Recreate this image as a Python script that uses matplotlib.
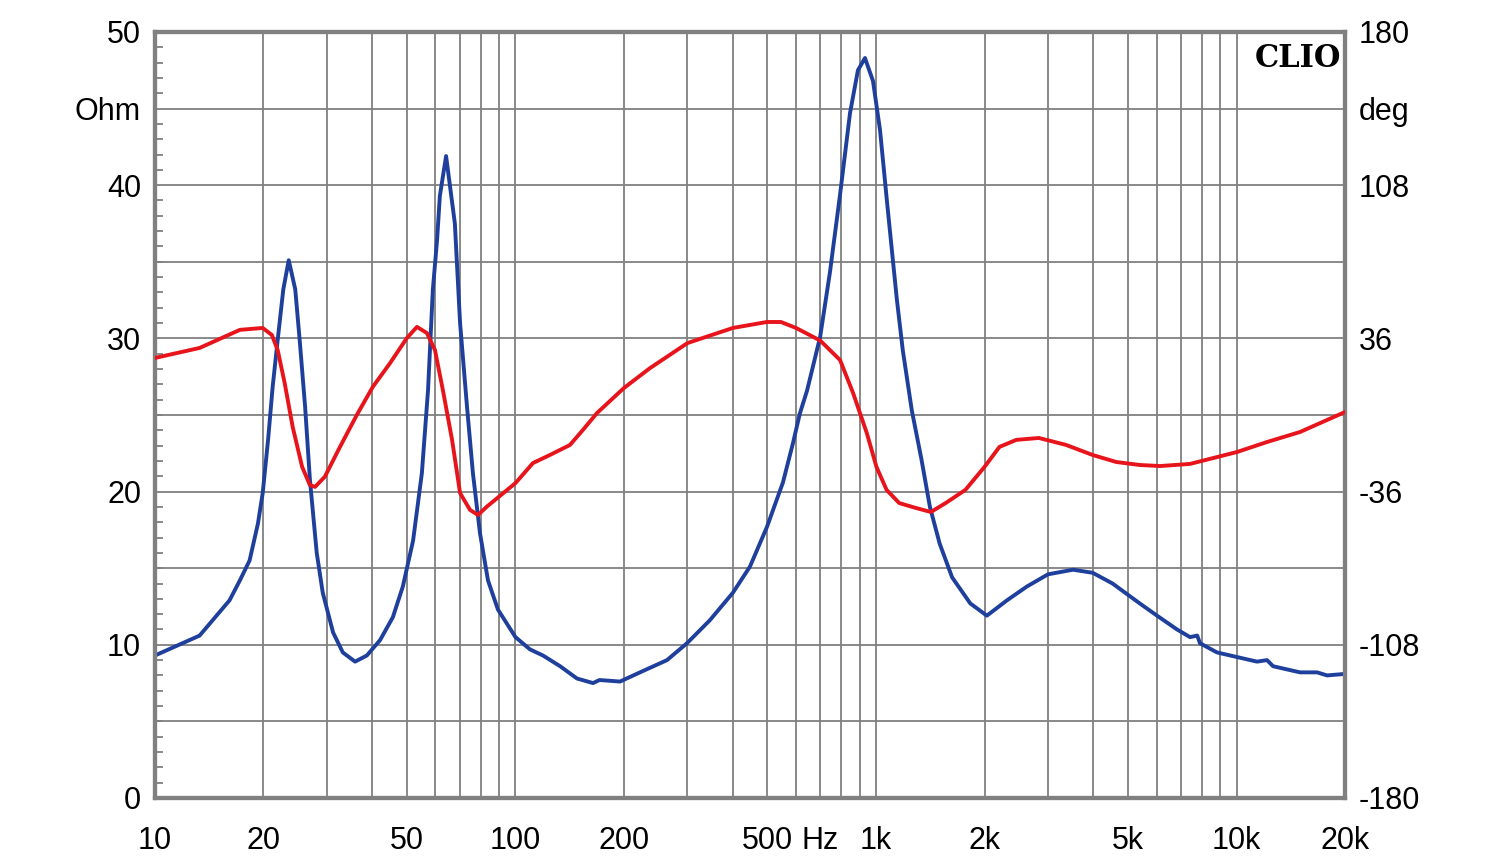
import numpy as np
import matplotlib
matplotlib.use("Agg")
import matplotlib.pyplot as plt
from matplotlib.ticker import FixedLocator, MultipleLocator, NullFormatter

# impedance magnitude (Ohm) vs frequency (Hz)
imp_f = [10, 13.3, 16.1, 17.2, 18.3, 19.3, 19.9, 20.6, 21.2, 21.9, 22.7, 23.5, 24.5,
         25.2, 26.1, 26.9, 28.1, 29.2, 31.2, 33.2, 35.9, 38.7, 42.1, 45.7, 48.7, 52,
         55, 57.2, 59, 60.6, 61.7, 64.2, 67.9, 70.2, 73.4, 76.2, 79.7, 83.9, 89.4, 100,
         109.7, 119.2, 133, 148.1, 164.1, 171, 195, 221.5, 263.2, 299, 346, 401, 447,
         498.5, 552, 589, 615, 644, 700, 745, 795, 847, 891, 932, 981, 1026, 1073,
         1115, 1143, 1187, 1257, 1337, 1411, 1502, 1626, 1826, 2030, 2308, 2620, 3000,
         3520, 3990, 4530, 5390, 6020, 6839, 7430, 7780, 7920, 8830, 10030, 11400,
         12150, 12630, 15000, 16730, 17830, 20000]
imp_z = [9.3, 10.6, 12.9, 14.2, 15.5, 17.9, 19.9, 23.4, 26.8, 29.9, 33.2, 35.1, 33.2,
         29.9, 25.5, 20.8, 16.0, 13.4, 10.8, 9.5, 8.9, 9.3, 10.3, 11.8, 13.8, 16.8,
         21.2, 26.6, 33.2, 36.4, 39.3, 41.9, 37.5, 31.0, 25.5, 21.2, 17.3, 14.2, 12.3,
         10.5, 9.7, 9.3, 8.6, 7.8, 7.5, 7.7, 7.6, 8.2, 9.0, 10.1, 11.6, 13.4, 15.1,
         17.7, 20.6, 23.2, 25.1, 26.6, 30.1, 34.3, 39.4, 44.7, 47.5, 48.3, 46.8, 43.6,
         38.9, 35.0, 32.5, 29.2, 25.3, 22.1, 19.0, 16.6, 14.4, 12.7, 11.9, 12.9, 13.8,
         14.6, 14.9, 14.7, 14.0, 12.7, 11.9, 11.0, 10.5, 10.6, 10.1, 9.5, 9.2, 8.9,
         9.0, 8.6, 8.2, 8.2, 8.0, 8.1]

# phase (deg) vs frequency (Hz)
ph_f = [10, 13.3, 17.2, 19.9, 21.1, 21.9, 22.9, 24.1, 25.6, 26.9, 27.8, 29.6, 32.6,
        36.3, 40.2, 44.9, 50, 53.3, 56.8, 59.8, 62.9, 66.7, 70.2, 74.8, 78.7, 83.4,
        90.6, 100, 111.8, 124.6, 141.6, 153.9, 168.3, 200, 236, 300, 401, 498, 545,
        600, 700, 795, 864, 943, 1003, 1070, 1160, 1290, 1420, 1560, 1770, 2000, 2200,
        2450, 2830, 3370, 3990, 4640, 5390, 6136, 7430, 10030, 12150, 15000, 20000]
ph_deg = [26.8, 31.5, 40.0, 40.9, 37.6, 30.5, 15.0, -5.6, -24.4, -32.9, -33.8, -29.0,
          -15.0, 0.0, 13.2, 24.4, 36.2, 41.4, 38.5, 30.5, 11.7, -11.7, -36.7, -44.6,
          -47.0, -43.0, -38.0, -32.0, -22.6, -18.8, -14.1, -7.0, 0.9, 12.7, 22.0,
          33.8, 40.9, 43.7, 43.7, 40.9, 35.0, 25.8, 10.3, -8.5, -24.4, -35.2, -41.4,
          -43.7, -45.6, -41.4, -35.2, -24.4, -15.0, -11.7, -10.8, -14.1, -18.8, -22.1,
          -23.5, -24.0, -23.0, -17.4, -12.7, -8.0, 1.4]

x_ticks = [10, 20, 50, 100, 200, 500, 700, 1000, 2000, 5000, 10000, 20000]
x_labels = ["10", "20", "50", "100", "200", "500", "Hz", "1k", "2k", "5k", "10k", "20k"]
x_grid = [20, 30, 40, 50, 60, 70, 80, 90, 100, 200, 300, 400, 500, 600, 700, 800, 900,
          1000, 2000, 3000, 4000, 5000, 6000, 7000, 8000, 9000, 10000]
z_ticks = [0, 10, 20, 30, 40, 45, 50]
z_labels = ["0", "10", "20", "30", "40", "Ohm", "50"]
p_ticks = [-180, -108, -36, 36, 108, 144, 180]
p_labels = ["-180", "-108", "-36", "36", "108", "deg", "180"]

GRID = "#808080"
plt.rcParams["font.family"] = ["Liberation Sans", "DejaVu Sans"]

fig = plt.figure(figsize=(15, 8.64), dpi=100)
ax = fig.add_axes([0.1033, 0.0764, 0.7934, 0.8866])
ax.set_xscale("log")
ax.set_xlim(10, 20000)
ax.set_ylim(0, 50)

# grid
for f in x_grid:
    ax.axvline(f, color=GRID, lw=1.3, zorder=0)
for z in range(5, 50, 5):
    ax.axhline(z, color=GRID, lw=1.3, zorder=0)

ax.plot(imp_f, imp_z, color="#1f3f9c", lw=2.8, zorder=3, solid_joinstyle="round")

ax.xaxis.set_major_locator(FixedLocator(x_ticks))
ax.set_xticklabels(x_labels)
ax.xaxis.set_minor_formatter(NullFormatter())
ax.xaxis.set_minor_locator(FixedLocator([]))
ax.tick_params(axis="x", length=0, pad=20, labelsize=22)

ax.set_yticks(z_ticks)
ax.set_yticklabels(z_labels)
ax.yaxis.set_minor_locator(MultipleLocator(1))
ax.tick_params(axis="y", which="major", length=0, pad=10, labelsize=22)
ax.tick_params(axis="y", which="minor", direction="in", length=6, width=1.3,
               color=GRID, left=True, right=True)

for s in ax.spines.values():
    s.set_color(GRID)
    s.set_linewidth(3)

ax2 = ax.twinx()
ax2.set_ylim(-180, 180)
ax2.plot(ph_f, ph_deg, color="#e8141b", lw=2.8, zorder=3, solid_joinstyle="round")
ax2.set_yticks(p_ticks)
ax2.set_yticklabels(p_labels)
ax2.tick_params(axis="y", length=0, pad=10, labelsize=22)
for s in ax2.spines.values():
    s.set_color(GRID)
    s.set_linewidth(3)

ax.text(0.997, 0.985, "CLIO", transform=ax.transAxes, ha="right", va="top",
        family="DejaVu Serif", fontweight="bold", fontsize=22)

fig.savefig("out.png", dpi=100)
